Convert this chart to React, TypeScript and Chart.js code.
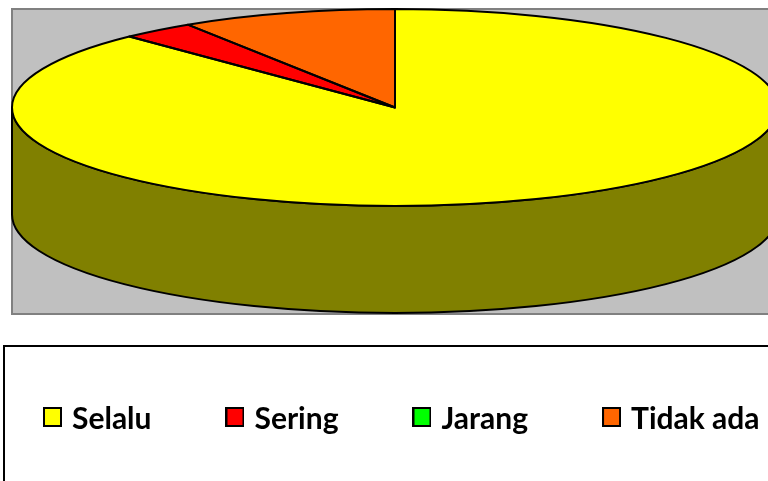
import React, { useEffect, useRef } from "react";
import { Chart } from "chart.js/auto";

const categories = ["Selalu", "Sering", "Jarang", "Tidak ada"];
const shares = [87.8, 3.1, 0, 9.1];
const colours = ["#FFFF00", "#FF0000", "#00FF00", "#FF6600"];
const wallColours = ["#808000", "#800000", "#008000", "#803300"];

const CX = 395, CY = 107.5, RX = 383, RY = 98.5, DEPTH = 107;
const LINE = 2;

function legendSwatch(colour: string) {
  const c = document.createElement("canvas");
  c.width = 19;
  c.height = 24;
  const g = c.getContext("2d")!;
  g.fillStyle = colour;
  g.fillRect(1, 1, 17, 18);
  g.strokeStyle = "#000000";
  g.lineWidth = 2;
  g.strokeRect(1, 1, 17, 18);
  return c;
}

const pie3d = {
  id: "pie3d",
  afterLayout(chart: any) {
    const lg = chart.legend;
    const pad = lg.options.labels.padding;
    lg.left = 48 - pad;
    lg.top = 404 - pad;
  },
  beforeDraw(chart: any) {
    const { ctx } = chart;
    ctx.save();
    ctx.fillStyle = "#FFFFFF";
    ctx.fillRect(0, 0, 768, 481);
    ctx.fillStyle = "#C0C0C0";
    ctx.strokeStyle = "#808080";
    ctx.lineWidth = 2;
    ctx.beginPath();
    ctx.rect(12, 9, 800, 305);
    ctx.fill();
    ctx.stroke();
    ctx.strokeStyle = "#000000";
    ctx.lineWidth = 2;
    ctx.strokeRect(4, 346, 900, 300);
    ctx.restore();
  },
  beforeDatasetsDraw(chart: any) {
    const { ctx } = chart;
    const arcs = chart.getDatasetMeta(0).data;
    ctx.save();
    arcs.forEach((arc: any, i: number) => {
      // front half of the wall: canvas angles in [0, PI]
      for (const shift of [0, Math.PI * 2]) {
        const a = Math.max(arc.startAngle, shift);
        const b = Math.min(arc.endAngle, shift + Math.PI);
        if (b <= a) continue;
        ctx.beginPath();
        ctx.ellipse(CX, CY, RX, RY, 0, a, b);
        ctx.ellipse(CX, CY + DEPTH, RX, RY, 0, b, a, true);
        ctx.closePath();
        ctx.fillStyle = wallColours[i];
        ctx.fill();
        ctx.strokeStyle = "#000";
        ctx.lineWidth = LINE;
        ctx.lineJoin = "round";
        ctx.stroke();
      }
    });
    ctx.restore();
    const a0 = arcs[0];
    ctx.save();
    ctx.translate(CX, CY);
    ctx.scale(RX / a0.outerRadius, RY / a0.outerRadius);
    ctx.translate(-a0.x, -a0.y);
  },
  afterDatasetsDraw(chart: any) {
    const { ctx } = chart;
    ctx.restore();
    const arcs = chart.getDatasetMeta(0).data;
    ctx.save();
    ctx.strokeStyle = "#000";
    ctx.lineWidth = LINE;
    ctx.lineJoin = "round";
    arcs.forEach((arc: any) => {
      if (arc.endAngle - arc.startAngle <= 0) return;
      ctx.beginPath();
      ctx.moveTo(CX, CY);
      ctx.ellipse(CX, CY, RX, RY, 0, arc.startAngle, arc.endAngle);
      ctx.closePath();
      ctx.stroke();
    });
    ctx.restore();
  },
};

export default function App() {
  const ref = useRef<HTMLCanvasElement>(null);
  useEffect(() => {
    const chart = new Chart(ref.current!, {
      type: "pie",
      data: {
        labels: categories,
        datasets: [
          {
            data: shares,
            backgroundColor: colours,
            borderWidth: 0,
            clip: false,
          } as any,
        ],
      },
      options: {
        responsive: false,
        animation: false,
        layout: { padding: { left: -300, right: -300, top: -200, bottom: -200 } },
        plugins: {
          tooltip: { enabled: false },
          title: { display: false },
          legend: {
            display: true,
            position: "bottom",
            align: "start",
            labels: {
              usePointStyle: true,
              pointStyleWidth: 9,
              boxHeight: 20,
              padding: 79,
              color: "#000000",
              font: { family: "Lato", weight: "bold", size: 30 },
              generateLabels: (c: any) =>
                (Chart as any).overrides.doughnut.plugins.legend.labels
                  .generateLabels(c)
                  .map((l: any, i: number) => ({
                    ...l,
                    pointStyle: legendSwatch(colours[i]),
                  })),
            },
          },
        },
      },
      plugins: [pie3d as any],
    });
    return () => chart.destroy();
  }, []);
  return (
    <div style={{ position: "fixed", left: 0, top: 0, width: 768, height: 481, overflow: "hidden" }}>
      <canvas ref={ref} width={768} height={481} style={{ display: "block" }} />
    </div>
  );
}
